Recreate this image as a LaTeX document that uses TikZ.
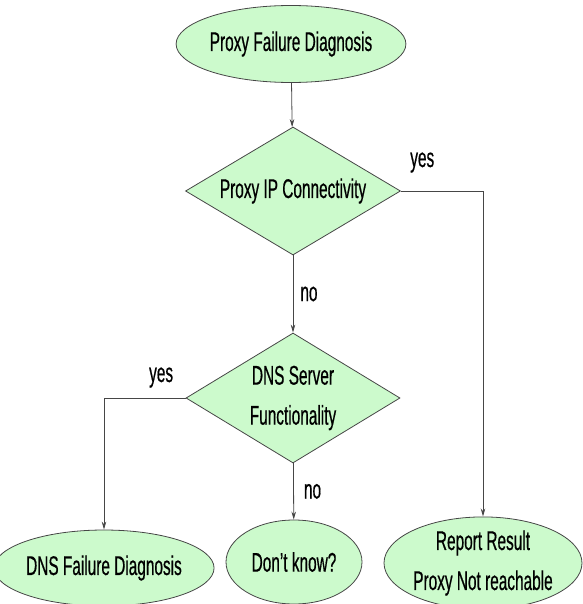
\documentclass[tikz,border=0pt]{standalone}
\usepackage{fontspec}
\setmainfont{Liberation Sans}[FakeStretch=0.57, FakeBold=0.5]
\usetikzlibrary{shapes.geometric,arrows.meta}
\definecolor{boxgreen}{RGB}{204,250,204}
\definecolor{edgegray}{RGB}{70,70,70}
\tikzset{
  endbox/.style={ellipse, draw=edgegray, fill=boxgreen, inner sep=0pt, align=center},
  testbox/.style={diamond, aspect=1.66, draw=edgegray, fill=boxgreen, inner sep=0pt, align=center},
  answer/.style={inner sep=0pt, text=black}
}
\begin{document}
\begin{tikzpicture}[x=1pt, y=-1pt, >={Stealth[length=8pt,width=4.5pt]},
    font=\fontsize{27}{40}\selectfont, line width=0.8pt]
        \useasboundingbox (0,0) rectangle (582,604);
        \node[endbox, minimum width=205, minimum height=77] (PFD) at (291, 44) {Proxy Failure Diagnosis};
        \node[testbox, minimum width=215, minimum height=128] (PIC) at (293, 191) {Proxy IP Connectivity};
        \node[testbox, minimum width=214, minimum height=130] (DSF) at (293, 398) {DNS Server\\Functionality};
        \node[endbox, minimum width=192, minimum height=76] (DNSF) at (104, 568) {DNS Failure Diagnosis};
        \node[endbox, minimum width=136, minimum height=84] (DK) at (294, 562) {Don't know?};
        \node[endbox, minimum width=198, minimum height=84] (RR) at (483, 563) {Report Result\\Proxy Not reachable};
        \draw[->, edgegray] (PFD) -- (PIC);
        \draw[->, edgegray] (PIC.east) -| node[answer, pos=0.13, above=18pt] {yes} (RR.north);
        \draw[->, edgegray] (PIC) -- node[answer, right=7pt] {no} (DSF);
        \draw[->, edgegray] (DSF.west) -| node[answer, pos=0.15, above=10pt] {yes} (DNSF.north);
        \draw[->, edgegray] (DSF) -- node[answer, right=10pt] {no} (DK);
    \end{tikzpicture}
\end{document}
